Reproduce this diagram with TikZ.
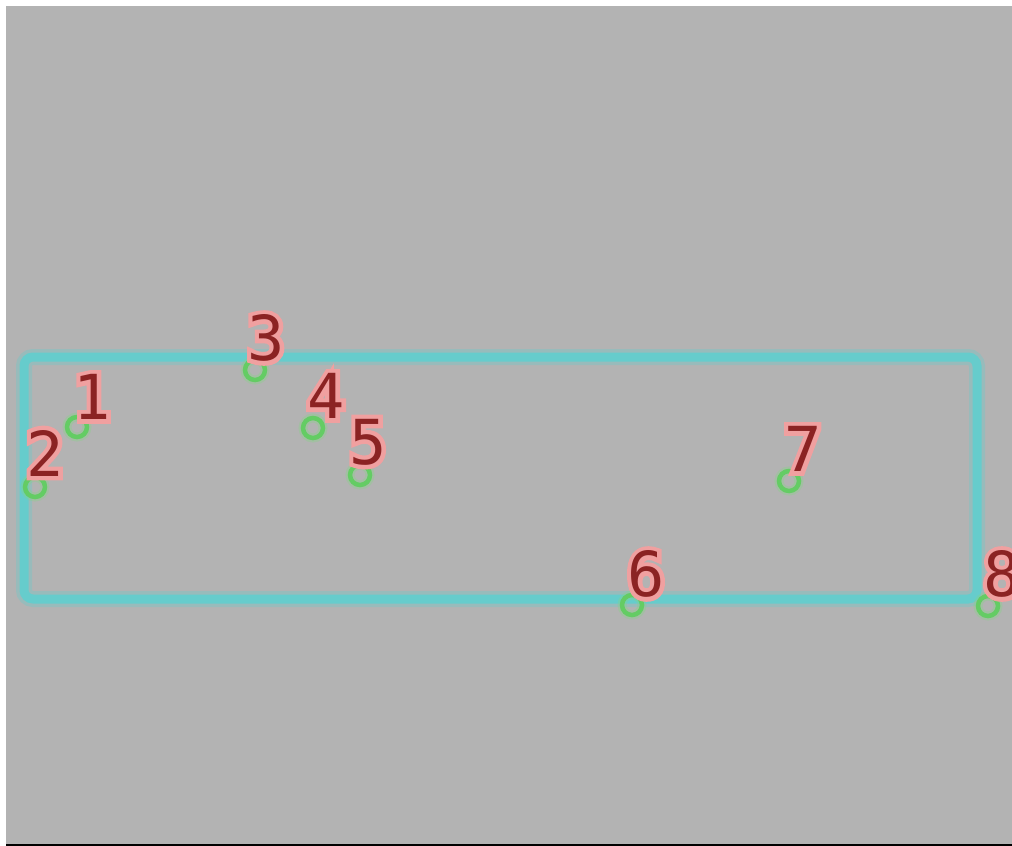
\documentclass[tikz,border=0pt]{standalone}
\usepackage{fontspec}
\newfontfamily\pixfont{DejaVu Sans Mono}
\newfontfamily\pixglow[FakeBold=14]{DejaVu Sans Mono}
\definecolor{bggray}{RGB}{179,179,179}
\definecolor{framecyan}{RGB}{102,204,204}
\definecolor{ptgreen}{RGB}{100,204,100}
\definecolor{lblred}{RGB}{139,35,35}
\definecolor{lblpink}{RGB}{240,160,160}
\tikzset{
  framebox/.style={draw=framecyan, line width=9pt, rounded corners=9pt, inner sep=0pt,
    preaction={draw=framecyan, line width=16pt, opacity=0.35}},
  ptmark/.style={circle, draw=ptgreen, line width=4.5pt, minimum size=20pt, inner sep=0pt,
    preaction={draw=ptgreen!80!white, line width=9pt, opacity=0.35}},
  ptlabel/.style={inner sep=0pt, text=lblred, font=\fontsize{62}{62}\selectfont}
}
\newcommand{\glowtxt}[1]{\rlap{\pixglow\textcolor{lblpink}{#1}}{\pixfont #1}}
\begin{document}
\begin{tikzpicture}[x=1pt,y=-1pt]
\useasboundingbox (0,0) rectangle (1012,846);
\fill[white] (0,0) rectangle (1012,846);
\fill[bggray] (6,6) rectangle (1012,843.5);
\fill[black] (6,843.5) rectangle (1012,846);
\node[framebox, minimum width=953pt, minimum height=242pt] (frame) at (500.5,478) {};
\node[ptmark] (p1) at (77,427) {};
\node[ptmark] (p2) at (35,487) {};
\node[ptmark] (p3) at (255,370) {};
\node[ptmark] (p4) at (313,428) {};
\node[ptmark] (p5) at (360,475) {};
\node[ptmark] (p6) at (632,605) {};
\node[ptmark] (p7) at (789,481) {};
\node[ptmark] (p8) at (988,606) {};
\node[ptlabel] (l1) at (92,397) {\glowtxt{1}};
\node[ptlabel] (l2) at (45,453) {\glowtxt{2}};
\node[ptlabel] (l3) at (266,338) {\glowtxt{3}};
\node[ptlabel] (l4) at (326,396) {\glowtxt{4}};
\node[ptlabel] (l5) at (368,442) {\glowtxt{5}};
\node[ptlabel] (l6) at (646,574) {\glowtxt{6}};
\node[ptlabel] (l7) at (803,449) {\glowtxt{7}};
\node[ptlabel] (l8) at (1002,574) {\glowtxt{8}};
\end{tikzpicture}
\end{document}
